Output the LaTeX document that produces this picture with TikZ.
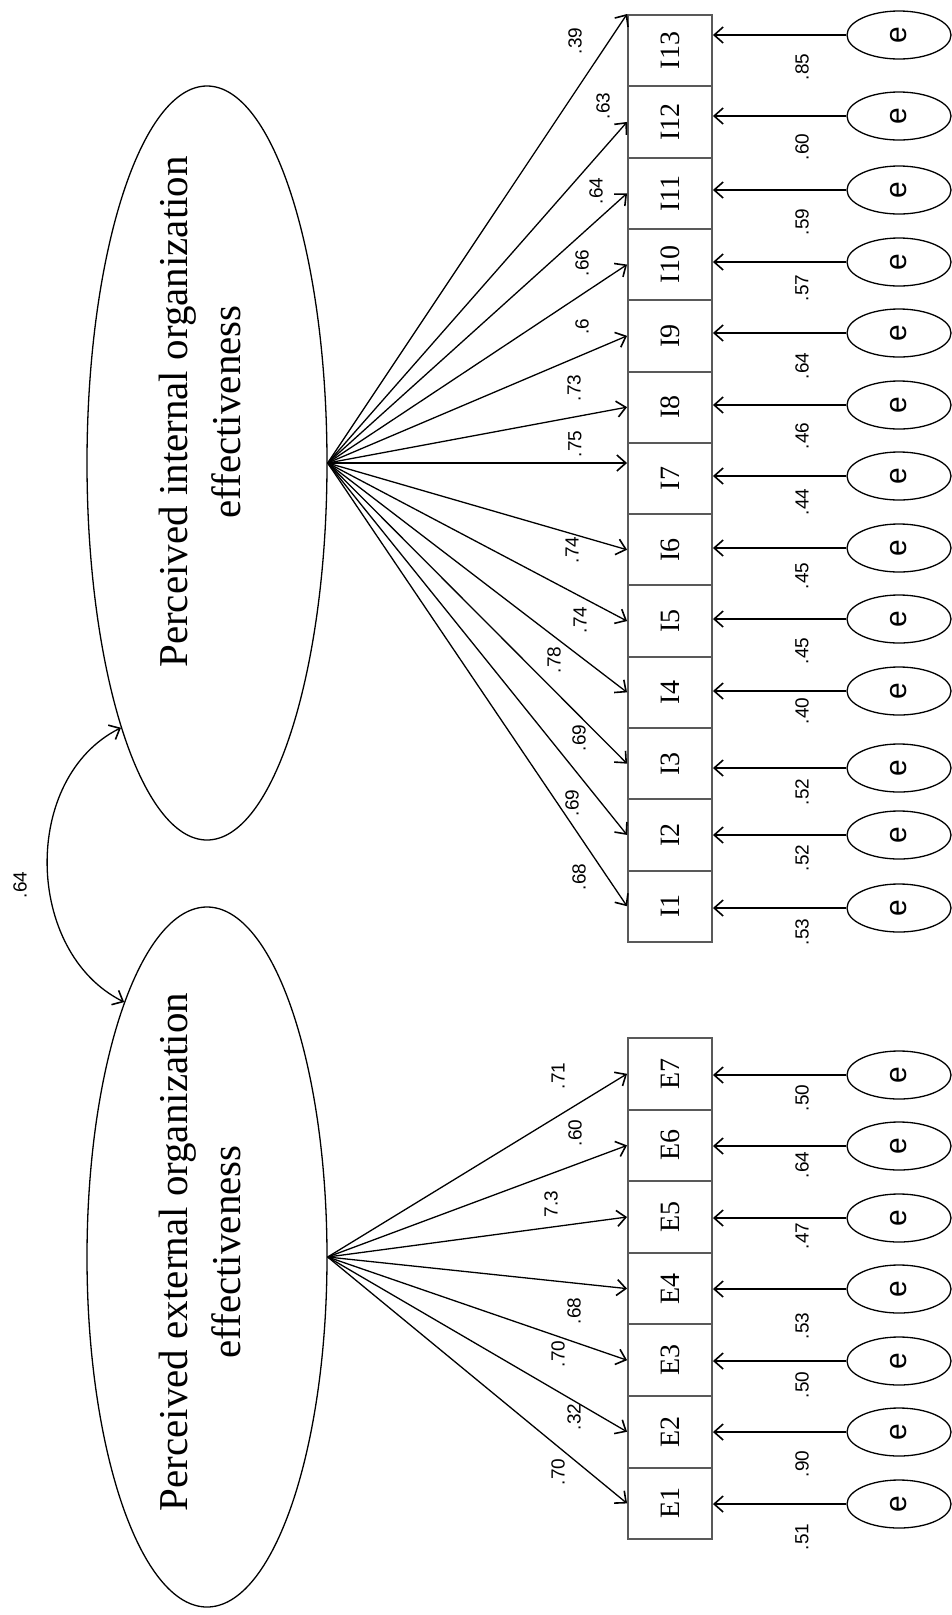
\documentclass[tikz,border=0pt]{standalone}
\usepackage{graphicx}
\usepackage{fontspec}
\setmainfont{Liberation Serif}
\newfontfamily\labelfont{Liberation Sans}
\usetikzlibrary{arrows.meta,shapes.geometric,calc}
\begin{document}
\begin{tikzpicture}[x=1pt,y=-1pt,
  latent/.style={ellipse,draw,line width=1.3pt,inner sep=0pt,minimum width=240pt},
  obsbox/.style={rectangle,draw=black!65,line width=1.9pt,minimum width=84pt,minimum height=71.4pt,inner sep=0pt,font=\fontsize{28}{30}\selectfont},
  errell/.style={ellipse,draw,line width=1.3pt,minimum width=104pt,minimum height=48pt,inner sep=0pt,font=\labelfont\fontsize{30}{32}\selectfont},
  barb/.tip={Straight Barb[length=9pt,width=16pt,line width=1.6pt]},
  load/.style={-barb,line width=1.3pt},
  coef/.style={font=\labelfont\fontsize{19}{21}\selectfont,rotate=90,inner sep=0pt},
  lattext/.style={font=\fontsize{41}{44}\selectfont,rotate=90,anchor=base,inner sep=0pt},
]
\useasboundingbox (0,0) rectangle (952,1615);

% latent variables
\node[latent,minimum height=754pt] (int) at (207,463) {};
\node[latent,minimum height=700pt] (ext) at (207,1257) {};
\node[lattext] (intA) at (187,412) {Perceived internal organization};
\node[lattext] (intB) at (240,412) {effectiveness};
\node[lattext] (extA) at (187,1252) {Perceived external organization};
\node[lattext] (extB) at (240,1252) {effectiveness};

% covariance
\draw[barb-barb,line width=1.3pt] (ext.108.4) .. controls +(-100,-50) and +(-100,50) .. (int.252.5);
\node[coef] (cov) at (20,885) {.64};

% internal indicators
\foreach \n/\ey in {1/908,2/835,3/768,4/691,5/619,6/548,7/476,8/405,9/333,10/262,11/190,12/116,13/35}{
  \node[obsbox] (I\n) at (670,{15+71.3*(13.5-\n)}) {\rotatebox{90}{I\n}};
  \node[errell] (eI\n) at (899,\ey) {\rotatebox{90}{e}};
  \draw[load] (eI\n.west) -- (eI\n.west -| I\n.east);
}
% external indicators
\foreach \n/\ey in {1/1504,2/1432,3/1361,4/1289,5/1218,6/1146,7/1075}{
  \node[obsbox] (E\n) at (670,{1038+71.6*(7.5-\n)}) {\rotatebox{90}{E\n}};
  \node[errell] (eE\n) at (899,\ey) {\rotatebox{90}{e}};
  \draw[load] (eE\n.west) -- (eE\n.west -| E\n.east);
}

% loadings internal
\draw[load] (int.east) -- (I13.north west);
\draw[load] (int.east) -- (I7.west |- int.east);
\foreach \n in {1,2,3,4,5,6,8,9,10,11,12}{
  \draw[load] (int.east) -- (I\n.west);
}
% loadings external
\foreach \n in {1,...,7}{
  \draw[load] (ext.east) -- (E\n.west);
}

% loading labels internal
\foreach \n/\lx/\ly/\t in {1/579/877/.68,2/572/803/.69,3/579/738/.69,4/554/660/.78,5/580/620/.74,6/572/550/.74,7/575/444/.75,8/574/388/.73,9/582/327/.6,10/582/263/.66,11/596/191/.64,12/603/106/.63,13/575/41/.39}{
  \node[coef] (lI\n) at (\lx,\ly) {\t};
}
% loading labels external
\foreach \n/\lx/\ly/\t in {1/558/1472/.70,2/574/1417/.32,3/558/1354/.70,4/574/1311/.68,5/551/1204/7.3,6/575/1133/.60,7/558/1076/.71}{
  \node[coef] (lE\n) at (\lx,\ly) {\t};
}
% residual labels
\foreach \n/\ly/\t in {1/932/.53,2/858/.52,3/792/.52,4/711/.40,5/651/.45,6/576/.45,7/502/.44,8/436/.46,9/366/.64,10/288/.57,11/222/.59,12/147/.60,13/67/.85}{
  \node[coef] (rI\n) at (802,\ly) {\t};
}
\foreach \n/\ly/\t in {1/1537/.51,2/1464/.90,3/1385/.50,4/1326/.53,5/1236/.47,6/1165/.64,7/1098/.50}{
  \node[coef] (rE\n) at (802,\ly) {\t};
}
\end{tikzpicture}
\end{document}
